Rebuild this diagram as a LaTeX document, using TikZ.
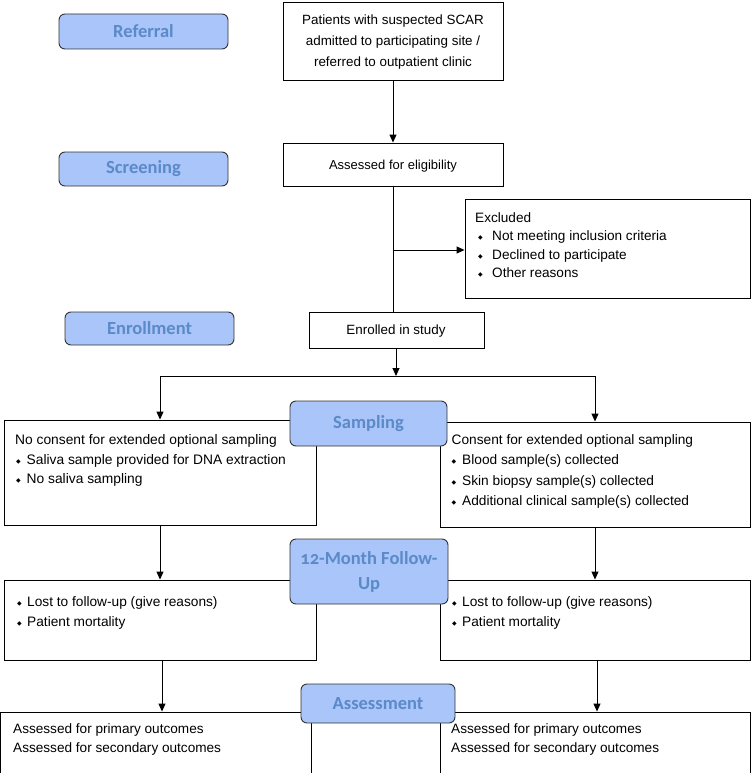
\documentclass[tikz,border=0pt]{standalone}
\usepackage{fontspec}
\setmainfont{Liberation Sans}
\newfontfamily\pillfont{Carlito}
\newfontfamily\djv{DejaVu Sans}
\usetikzlibrary{arrows.meta,calc}
\definecolor{pillfill}{HTML}{A9C5F9}
\definecolor{pilltext}{HTML}{5B8AC8}
\newcommand{\bul}[1][10.5pt]{\makebox[#1][l]{\raisebox{1pt}{\djv\fontsize{6}{6}\selectfont ◆}}}
\tikzset{
  box/.style={draw=black, line width=0.9pt, fill=white, inner sep=0pt},
  pill/.style={draw=black!80, line width=0.9pt, fill=pillfill, rounded corners=6pt,
    inner sep=0pt, font=\pillfont\bfseries\fontsize{18.5}{25}\selectfont, text=pilltext, align=center},
  txt/.style={inner sep=0pt, anchor=north west, align=left},
  ctxt/.style={inner sep=0pt, align=center},
  arr/.style={line width=0.9pt, -{Triangle[length=8pt,width=7pt]}},
  ln/.style={line width=0.9pt}
}
\newcommand{\boxat}[5]{% name, x1,y1,x2,y2
  \node[box, minimum width={#4-#2}, minimum height={#5-#3}] (#1) at ({(#2+#4)/2},{(#3+#5)/2}) {};}
\newcommand{\pillat}[6]{%
  \node[pill, minimum width={#4-#2}, minimum height={#5-#3}] (#1) at ({(#2+#4)/2},{(#3+#5)/2}) {#6};}
\begin{document}
\begin{tikzpicture}[x=1pt,y=-1pt]
\useasboundingbox (0,0) rectangle (751,773);
% main column
\boxat{top}{283}{2}{503}{80}
\node[ctxt, font=\fontsize{13.4}{21}\selectfont] (toptxt) at (393,42) {Patients with suspected SCAR\\admitted to participating site /\\referred to outpatient clinic};
\boxat{elig}{283}{143}{503}{186}
\node[ctxt, font=\fontsize{13}{16}\selectfont] (eligtxt) at (393,166) {Assessed for eligibility};
\boxat{excl}{465}{199}{750}{298}
\node[txt, font=\fontsize{13.6}{18.3}\selectfont] (excltxt) at (475,212.5) {Excluded\\
\hspace*{3pt}\bul[14pt]Not meeting inclusion criteria\\
\hspace*{3pt}\bul[14pt]Declined to participate\\
\hspace*{3pt}\bul[14pt]Other reasons};
\boxat{enr}{309}{312}{484}{348}
\node[ctxt, font=\fontsize{13.4}{16}\selectfont] (enrtxt) at (396,331) {Enrolled in study};
% sampling row
\boxat{sl}{4}{420}{316}{525}
\node[txt, font=\fontsize{13.8}{19.5}\selectfont] (sltxt) at (15,434.5) {No consent for extended optional sampling\\
\hspace*{1pt}\bul Saliva sample provided for DNA extraction\\
\hspace*{1pt}\bul No saliva sampling};
\boxat{sr}{440}{422}{750}{527}
\node[txt, font=\fontsize{13.7}{20.3}\selectfont] (srtxt) at (451.5,434.5) {Consent for extended optional sampling\\
\bul Blood sample(s) collected\\
\bul Skin biopsy sample(s) collected\\
\bul Additional clinical sample(s) collected};
% follow-up row
\boxat{fl}{4}{580}{316}{660}
\node[txt, font=\fontsize{13.7}{20}\selectfont] (fltxt) at (17,596) {\bul[10pt]Lost to follow-up (give reasons)\\
\bul[10pt]Patient mortality};
\boxat{fr}{440}{580}{750}{660}
\node[txt, font=\fontsize{13.7}{20}\selectfont] (frtxt) at (452,596) {\bul[10pt]Lost to follow-up (give reasons)\\
\bul[10pt]Patient mortality};
% assessment row
\boxat{al}{0}{712}{311}{773}
\node[txt, font=\fontsize{13.6}{19}\selectfont] (altxt) at (13,723.5) {Assessed for primary outcomes\\Assessed for secondary outcomes};
\boxat{ar}{440}{712}{750}{773}
\node[txt, font=\fontsize{13.6}{19}\selectfont] (artxt) at (451,723.5) {Assessed for primary outcomes\\Assessed for secondary outcomes};
% connectors
\coordinate (exj) at (393,250);
\coordinate (spl) at (396,376);
\coordinate (spL) at (160,376);
\coordinate (spR) at (595,376);
\draw[arr] (top.south) -- (elig.north);
\draw[ln] (elig.south) -- (elig.south |- enr.north);
\draw[arr] (exj) -- (excl.west |- exj);
\draw[arr] (enr.south -| spl) -- (spl);
\draw[ln] (spL) -- (spR);
\draw[arr] (spL) -- (spL |- sl.north);
\draw[arr] (spR) -- (spR |- sr.north);
\draw[arr] (sl.south -| spL) -- (spL |- fl.north);
\draw[arr] (sr.south -| spR) -- (spR |- fr.north);
\coordinate (aL) at (162,0);
\coordinate (aR) at (597,0);
\draw[arr] (fl.south -| aL) -- (aL |- al.north);
\draw[arr] (fr.south -| aR) -- (aR |- ar.north);
% phase pills
\pillat{p1}{59}{14}{228}{49}{Referral}
\pillat{p2}{59}{152}{228}{186}{Screening}
\pillat{p3}{65}{312}{234}{345}{Enrollment}
\pillat{p4}{290}{401}{447}{446}{Sampling}
\pillat{p5}{290}{539}{448}{604}{{\addfontfeatures{Numbers=OldStyle}12}-Month Follow-\\Up}
\pillat{p6}{301}{684}{455}{723}{Assessment}
\end{tikzpicture}
\end{document}
